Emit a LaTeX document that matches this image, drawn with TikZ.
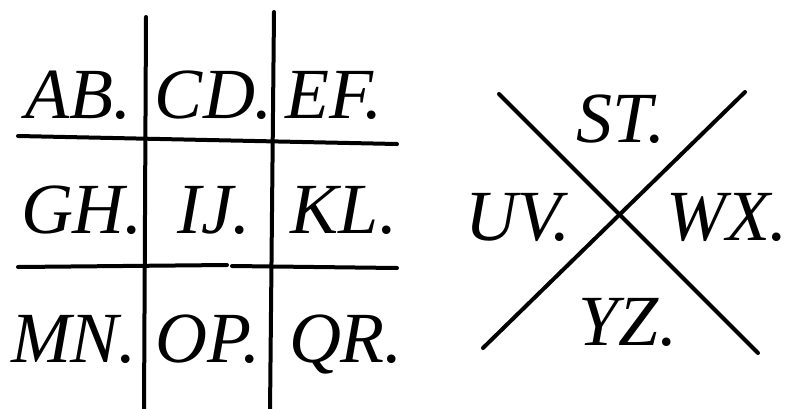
\documentclass[tikz,border=0pt]{standalone}
\usepackage{fontspec}
\setmainfont{Liberation Serif}
\usetikzlibrary{positioning}

\begin{document}
\begin{tikzpicture}[
  x=1pt, y=-1pt,
  cell/.style={anchor=base, inner sep=0pt, font=\fontsize{72}{82}\selectfont\itshape},
  bar/.style={line width=4pt, line cap=round}
]
\useasboundingbox (0,0) rectangle (793,408);

% grid
\coordinate (v1t) at (146,17);  \coordinate (v1b) at (144,412);
\coordinate (v2t) at (274,12);  \coordinate (v2b) at (270,412);
\coordinate (h1l) at (18,136);  \coordinate (h1r) at (397,144);
\coordinate (h2l) at (18,267);  \coordinate (h2m) at (227,265);
\coordinate (h2n) at (232,266); \coordinate (h2r) at (397,268);
\draw[bar] (v1t) -- (v1b);
\draw[bar] (v2t) -- (v2b);
\draw[bar] (h1l) -- (h1r);
\draw[bar] (h2l) -- (h2m);
\draw[bar] (h2n) -- (h2r);

\node[cell] (ab) at (78,118) {AB.};
\node[cell] (cd) at (214,118) {CD.};
\node[cell] (ef) at (334,118) {EF.};
\node[cell] (gh) at (82,233) {GH.};
\node[cell] (ij) at (214,233) {IJ.};
\node[cell] (kl) at (344,233) {KL.};
\node[cell] (mn) at (74,362) {MN.};
\node[cell] (op) at (208,362) {OP.};
\node[cell] (qr) at (346,362) {QR.};

% cross
\coordinate (d1a) at (499,94);  \coordinate (d1b) at (758,353);
\coordinate (d2a) at (745,92);  \coordinate (d2b) at (483,348);
\draw[bar] (d1a) -- (d1b);
\draw[bar] (d2a) -- (d2b);

\node[cell] (st) at (621,142) {ST.};
\node[cell] (uv) at (518,240) {UV.};
\node[cell] (wx) at (727,240) {WX.};
\node[cell] (yz) at (628,345) {YZ.};
\end{tikzpicture}
\end{document}
